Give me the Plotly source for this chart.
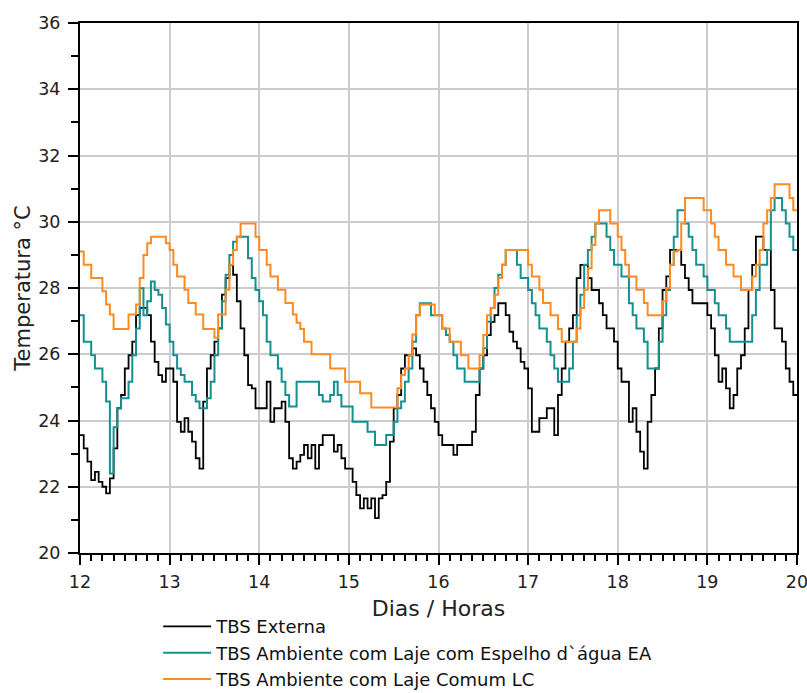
import plotly.graph_objects as go

# Hourly readings (°C), one list per day, days 12..19, plus final value at day 20
ext_d12 = [23.56, 23.16, 22.76, 22.2, 22.45, 22.15, 22.0, 21.8, 22.25, 23.16, 24.37, 24.77, 25.57, 25.97, 26.38, 27.18, 27.4, 27.4, 27.18, 26.38, 25.77, 25.37, 25.17, 25.57]
ext_d13 = [25.57, 25.17, 23.96, 23.66, 24.07, 23.66, 23.36, 22.86, 22.55, 24.57, 25.57, 25.97, 26.38, 26.78, 27.8, 28.3, 28.7, 28.4, 27.6, 26.78, 25.97, 25.07, 24.97, 24.37]
ext_d14 = [24.37, 24.37, 25.17, 23.96, 24.37, 24.37, 24.57, 23.96, 22.86, 22.55, 22.76, 22.96, 23.26, 22.86, 23.26, 22.55, 23.26, 23.56, 23.56, 23.56, 23.06, 23.26, 22.86, 22.55]
ext_d15 = [22.55, 22.15, 21.75, 21.35, 21.65, 21.35, 21.65, 21.05, 21.65, 21.75, 22.15, 23.36, 24.37, 24.77, 25.57, 25.97, 25.97, 26.18, 25.97, 25.57, 25.17, 24.77, 24.37, 23.96]
ext_d16 = [23.56, 23.26, 23.26, 23.26, 22.96, 23.26, 23.26, 23.26, 23.26, 23.66, 24.77, 25.57, 25.97, 26.58, 26.98, 27.18, 27.54, 27.54, 27.18, 26.68, 26.38, 26.18, 25.77, 25.57]
ext_d17 = [24.97, 23.66, 23.66, 24.07, 24.07, 24.37, 24.37, 23.56, 24.77, 25.57, 26.38, 26.78, 27.18, 28.3, 28.7, 28.7, 28.3, 27.94, 27.94, 27.54, 27.18, 26.78, 26.78, 26.38]
ext_d18 = [25.57, 25.17, 25.17, 23.96, 24.37, 23.66, 23.06, 22.55, 23.96, 24.77, 25.57, 26.78, 27.94, 28.35, 29.15, 29.15, 29.15, 28.7, 28.3, 27.94, 27.54, 27.54, 27.54, 27.54]
ext_d19 = [27.18, 26.78, 25.97, 25.17, 25.57, 24.97, 24.37, 24.77, 25.57, 25.97, 26.78, 27.94, 28.7, 29.55, 29.55, 29.15, 29.15, 27.94, 26.78, 26.78, 26.38, 25.57, 25.17, 24.77]
ext_end = [24.77]

ea_d12 = [27.18, 26.38, 26.38, 25.97, 25.57, 25.57, 25.17, 24.57, 22.4, 23.8, 24.37, 24.67, 24.67, 25.17, 25.97, 26.78, 27.99, 27.18, 27.6, 28.2, 27.94, 27.8, 27.4, 26.9]
ea_d13 = [26.38, 25.97, 25.57, 25.37, 25.17, 25.17, 24.77, 24.57, 24.37, 24.37, 24.67, 25.17, 25.97, 26.78, 27.6, 28.4, 29.0, 29.4, 29.55, 29.55, 29.55, 28.9, 28.3, 27.94]
ea_d14 = [27.6, 27.18, 26.38, 25.97, 25.97, 25.57, 25.17, 24.77, 24.42, 24.42, 25.17, 25.17, 25.17, 25.17, 25.17, 25.17, 24.77, 24.57, 24.57, 24.77, 25.17, 24.77, 24.42, 24.42]
ea_d15 = [24.42, 23.96, 23.96, 23.96, 23.96, 23.66, 23.66, 23.26, 23.26, 23.26, 23.56, 23.56, 23.96, 24.37, 24.57, 25.17, 25.57, 26.38, 27.18, 27.54, 27.54, 27.54, 27.18, 27.18]
ea_d16 = [27.18, 26.78, 26.58, 26.38, 25.97, 25.57, 25.57, 25.17, 25.17, 25.17, 25.17, 25.57, 26.18, 26.98, 27.4, 28.0, 28.4, 28.7, 29.15, 29.15, 29.15, 28.7, 28.3, 28.3]
ea_d17 = [27.94, 27.54, 27.18, 26.78, 26.78, 26.38, 25.97, 25.57, 25.17, 25.17, 25.17, 25.57, 26.38, 27.18, 27.8, 28.7, 29.15, 29.55, 29.95, 29.95, 29.95, 29.55, 29.15, 28.7]
ea_d18 = [28.7, 28.35, 28.35, 27.54, 27.18, 26.78, 26.78, 26.38, 25.57, 25.57, 25.57, 26.38, 27.18, 27.94, 28.7, 29.55, 30.35, 30.35, 29.95, 29.55, 29.15, 28.7, 28.7, 28.35]
ea_d19 = [27.94, 27.94, 27.54, 27.18, 27.18, 26.78, 26.38, 26.38, 26.38, 26.38, 26.38, 26.38, 27.18, 27.94, 28.7, 28.7, 29.15, 30.35, 30.72, 30.72, 30.35, 29.95, 29.55, 29.15]
ea_end = [29.15]

lc_d12 = [29.1, 28.7, 28.7, 28.3, 28.3, 28.3, 27.9, 27.5, 27.2, 26.76, 26.76, 26.76, 26.76, 27.2, 27.2, 27.5, 28.3, 29.0, 29.35, 29.55, 29.55, 29.55, 29.55, 29.35]
lc_d13 = [29.15, 28.7, 28.35, 28.35, 27.95, 27.55, 27.55, 27.2, 27.2, 26.76, 26.76, 26.76, 26.5, 27.2, 27.2, 27.95, 28.7, 29.15, 29.55, 29.95, 29.95, 29.95, 29.95, 29.55]
lc_d14 = [29.15, 29.15, 28.7, 28.35, 28.35, 27.95, 27.95, 27.55, 27.55, 27.2, 26.95, 26.76, 26.38, 26.38, 26.0, 26.0, 26.0, 26.0, 26.0, 25.57, 25.57, 25.57, 25.57, 25.17]
lc_d15 = [25.17, 25.17, 25.17, 24.82, 24.82, 24.82, 24.39, 24.39, 24.39, 24.39, 24.39, 24.39, 24.39, 24.97, 25.37, 25.57, 25.97, 26.6, 27.18, 27.5, 27.5, 27.5, 27.5, 27.18]
lc_d16 = [27.18, 26.78, 26.78, 26.38, 26.38, 26.38, 25.97, 25.97, 25.57, 25.57, 25.57, 25.97, 26.58, 27.18, 27.4, 27.8, 28.3, 28.7, 29.15, 29.15, 29.15, 29.15, 29.15, 29.15]
lc_d17 = [28.7, 28.35, 28.35, 27.95, 27.55, 27.55, 27.18, 27.18, 26.76, 26.38, 26.38, 26.38, 26.38, 26.78, 27.4, 27.95, 28.6, 29.3, 29.95, 30.35, 30.35, 30.35, 29.95, 29.95]
lc_d18 = [29.55, 29.15, 28.7, 28.35, 28.35, 27.95, 27.95, 27.55, 27.18, 27.18, 27.18, 27.18, 27.6, 28.0, 28.7, 29.1, 29.15, 29.95, 30.72, 30.72, 30.72, 30.72, 30.72, 30.35]
lc_d19 = [30.35, 29.95, 29.55, 29.15, 29.15, 28.7, 28.7, 28.35, 28.35, 27.94, 27.94, 27.94, 28.35, 28.7, 29.15, 29.95, 30.35, 30.72, 31.13, 31.13, 31.13, 31.13, 30.72, 30.35]
lc_end = [30.35]

x_ticks = [12, 13, 14, 15, 16, 17, 18, 19, 20]
y_ticks = [20, 22, 24, 26, 28, 30, 32, 34, 36]

ext = ext_d12 + ext_d13 + ext_d14 + ext_d15 + ext_d16 + ext_d17 + ext_d18 + ext_d19 + ext_end
ea = ea_d12 + ea_d13 + ea_d14 + ea_d15 + ea_d16 + ea_d17 + ea_d18 + ea_d19 + ea_end
lc = lc_d12 + lc_d13 + lc_d14 + lc_d15 + lc_d16 + lc_d17 + lc_d18 + lc_d19 + lc_end
hours = [12 + i / 24 for i in range(len(ext))]

fig = go.Figure()
fig.add_trace(go.Scatter(x=hours, y=ext, mode="lines", line_shape="hv",
                         line=dict(color="#000000", width=1.8), name="TBS Externa"))
fig.add_trace(go.Scatter(x=hours, y=ea, mode="lines", line_shape="hv",
                         line=dict(color="#16908f", width=2), name="TBS Ambiente com Laje com Espelho d`água EA"))
fig.add_trace(go.Scatter(x=hours, y=lc, mode="lines", line_shape="hv",
                         line=dict(color="#ff8a22", width=2), name="TBS Ambiente com Laje Comum LC"))

font_family = "DejaVu Sans, Liberation Sans, Arial, sans-serif"
fig.update_layout(
    width=807, height=693,
    margin=dict(l=80, r=10, t=23, b=140, autoexpand=False),
    paper_bgcolor="white", plot_bgcolor="white",
    font=dict(family=font_family, size=17, color="#222222"),
    showlegend=True,
    legend=dict(orientation="v", x=0.109, xanchor="left", y=-0.104, yanchor="top",
                font=dict(size=18, color="#111111"), itemwidth=48, tracegroupgap=0,
                bgcolor="rgba(0,0,0,0)"),
    xaxis=dict(range=[12, 20], tickvals=x_ticks, ticktext=[str(v) for v in x_ticks],
               automargin=False, ticklabeloverflow="allow",
               showgrid=True, gridcolor="#cccccc", gridwidth=2,
               showline=True, linecolor="#000000", linewidth=2, mirror=True,
               ticks="outside", ticklen=10, tickwidth=2, tickcolor="#000000",
               ticklabelstandoff=2, tickfont=dict(size=17.5),
               minor=dict(dtick=0.125, ticks="outside", ticklen=6, tickwidth=1.5, tickcolor="#000000", showgrid=False),
               title=dict(text="Dias / Horas", standoff=10, font=dict(size=22)),
               zeroline=False),
    yaxis=dict(range=[20, 36], tickvals=y_ticks, ticktext=[str(v) for v in y_ticks],
               automargin=False, ticklabeloverflow="allow",
               showgrid=True, gridcolor="#cccccc", gridwidth=2,
               showline=True, linecolor="#000000", linewidth=2, mirror=True,
               ticks="outside", ticklen=10, tickwidth=2, tickcolor="#000000",
               ticklabelstandoff=4, tickfont=dict(size=17.5),
               minor=dict(dtick=1, ticks="outside", ticklen=7, tickwidth=1.5, tickcolor="#000000", showgrid=False),
               title=dict(text="Temperatura °C", standoff=2, font=dict(size=21)),
               zeroline=False),
)

fig.write_html("out.html", config={"displayModeBar": False},
               post_script="document.body.style.margin='0';document.body.style.overflow='hidden';")
